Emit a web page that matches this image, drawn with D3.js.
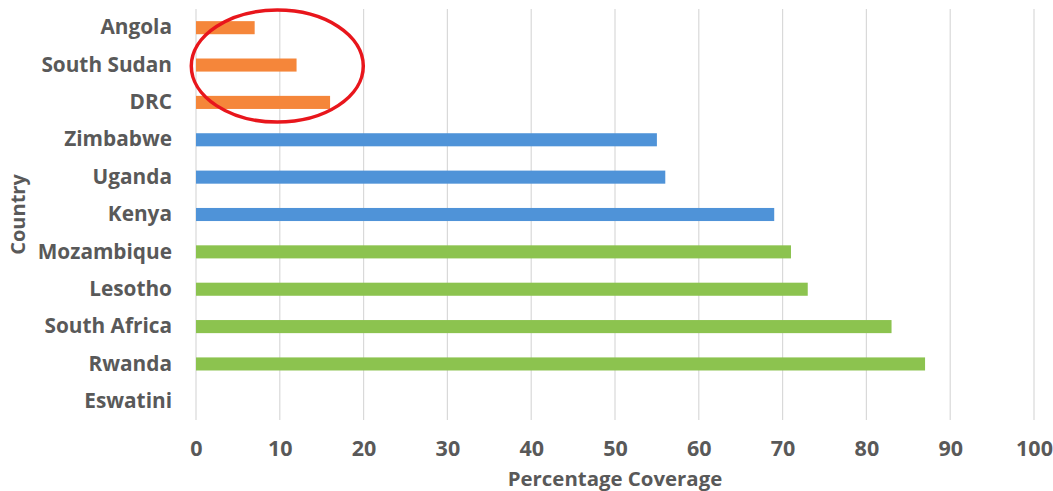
<!DOCTYPE html>
<html>
<head>
<meta charset="utf-8">
<script src="https://cdn.jsdelivr.net/npm/d3@7"></script>
<style>
  html, body { margin: 0; padding: 0; background: #ffffff; }
  svg { display: block; font-family: "Open Sans", "DejaVu Sans", sans-serif; }
</style>
</head>
<body>
<svg id="chart" width="1053" height="491"></svg>
<script>
// Coverage by country, listed top to bottom
const countries = ["Angola", "South Sudan", "DRC", "Zimbabwe", "Uganda", "Kenya",
                   "Mozambique", "Lesotho", "South Africa", "Rwanda", "Eswatini"];
const coverage  = [7, 12, 16, 55, 56, 69, 71, 73, 83, 87, 0];
const groups    = ["low", "low", "low", "mid", "mid", "mid",
                   "high", "high", "high", "high", "high"];
const groupColors = { low: "#F5863A", mid: "#4F93D8", high: "#8CC34F" };
const xTicks = [0, 10, 20, 30, 40, 50, 60, 70, 80, 90, 100];
// Countries singled out with a hand-drawn circle
const highlighted = ["Angola", "South Sudan", "DRC"];

const svg = d3.select("#chart");
const margin = { left: 196, right: 19, top: 9, bottom: 71 };
const width = 1053, height = 491;

const x = d3.scaleLinear().domain([0, 100])
  .range([margin.left, width - margin.right]);
const y = d3.scaleBand().domain(countries)
  .range([margin.top, height - margin.bottom])
  .paddingInner(0.65).paddingOuter(0.325);

const textColor = "#595959";

// Vertical gridlines
svg.append("g")
  .selectAll("line")
  .data(xTicks)
  .join("line")
  .attr("x1", d => x(d)).attr("x2", d => x(d))
  .attr("y1", margin.top).attr("y2", height - margin.bottom)
  .attr("stroke", "#d9d9d9").attr("stroke-width", 1.2);

// Bars
svg.append("g")
  .selectAll("rect")
  .data(countries)
  .join("rect")
  .attr("x", x(0))
  .attr("y", d => y(d))
  .attr("width", (d, i) => x(coverage[i]) - x(0))
  .attr("height", y.bandwidth())
  .attr("fill", (d, i) => groupColors[groups[i]]);

// X axis tick labels
const xAxis = d3.axisBottom(x).tickValues(xTicks).tickSize(0).tickPadding(0);
const gx = svg.append("g")
  .attr("transform", `translate(0, ${height - margin.bottom + 36})`)
  .call(xAxis);
gx.select(".domain").remove();
gx.selectAll("text")
  .attr("fill", textColor)
  .attr("font-size", 21.5)
  .attr("font-weight", "bold")
  .attr("font-family", "'Open Sans', sans-serif")
  .attr("dy", 0);

// Y axis category labels
const yAxis = d3.axisLeft(y).tickSize(0).tickPadding(24);
const gy = svg.append("g")
  .attr("transform", `translate(${margin.left}, 0)`)
  .call(yAxis);
gy.select(".domain").remove();
gy.selectAll("text")
  .attr("fill", textColor)
  .attr("font-size", 20.8)
  .attr("font-weight", "bold")
  .attr("font-family", "'Open Sans', sans-serif");

// Axis titles
svg.append("text")
  .attr("x", 615)
  .attr("y", 486)
  .attr("text-anchor", "middle")
  .attr("fill", textColor)
  .attr("font-size", 20.4)
  .attr("font-weight", "bold")
  .text("Percentage Coverage");

svg.append("text")
  .attr("transform", `translate(25, ${(margin.top + height - margin.bottom) / 2}) rotate(-90)`)
  .attr("text-anchor", "middle")
  .attr("fill", textColor)
  .attr("font-size", 20)
  .attr("font-weight", "bold")
  .text("Country");

// Red ellipse around the highlighted rows
const hTop = y(highlighted[0]);
const hBot = y(highlighted[highlighted.length - 1]) + y.bandwidth();
const cy = (hTop + hBot) / 2;
svg.append("ellipse")
  .attr("cx", x(9.7))
  .attr("cy", cy + 1)
  .attr("rx", 86)
  .attr("ry", 56)
  .attr("fill", "none")
  .attr("stroke", "#E8161C")
  .attr("stroke-width", 3.5);
</script>
</body>
</html>
